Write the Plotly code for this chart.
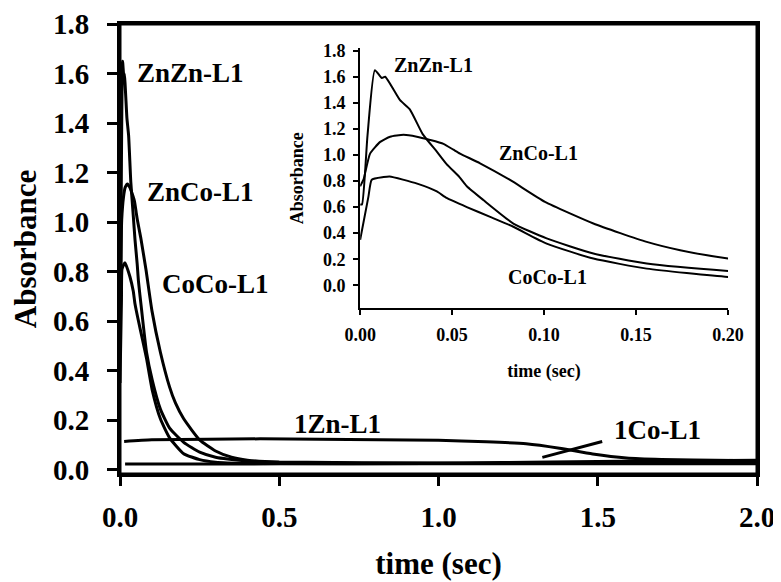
import plotly.graph_objects as go

# ---------------- data ----------------
# fast-decay traces, time in s (same data used in the main plot and the inset)
znzn_t = [0.0, 0.001, 0.004, 0.008, 0.0118, 0.0136, 0.0217, 0.027, 0.034, 0.042, 0.047,
          0.054, 0.058, 0.067, 0.0833, 0.1014, 0.1268, 0.1558, 0.2, 0.25, 0.3, 0.4, 0.5, 1.0, 2.0]
znzn_a = [0.62, 0.62, 1.15, 1.65, 1.59, 1.60, 1.42, 1.35, 1.16, 1.02, 0.93,
          0.83, 0.76, 0.654, 0.474, 0.36, 0.244, 0.167, 0.11, 0.07, 0.05, 0.035, 0.028, 0.025, 0.025]

znco_t = [0.0, 0.0018, 0.0054, 0.0109, 0.0163, 0.0236, 0.0308, 0.038, 0.0453, 0.0507, 0.0543,
          0.0652, 0.0815, 0.1005, 0.1268, 0.1558, 0.174, 0.2, 0.25, 0.3, 0.35, 0.4, 0.5, 1.0, 2.0]
znco_a = [0.76, 0.81, 1.01, 1.10, 1.14, 1.154, 1.14, 1.115, 1.085, 1.04, 1.01,
          0.936, 0.808, 0.64, 0.474, 0.333, 0.269, 0.205, 0.12, 0.075, 0.05, 0.038, 0.03, 0.026, 0.026]

coco_t = [0.0, 0.0045, 0.0063, 0.0127, 0.016, 0.031, 0.0417, 0.047, 0.058, 0.0707, 0.0833,
          0.1014, 0.1268, 0.1558, 0.2, 0.25, 0.3, 0.4, 1.0, 2.0]
coco_a = [0.35, 0.68, 0.81, 0.83, 0.835, 0.78, 0.72, 0.67, 0.60, 0.525, 0.449,
          0.32, 0.205, 0.128, 0.064, 0.04, 0.03, 0.025, 0.023, 0.023]

# slow traces (main plot only)
zn1_t = [0.013, 0.1, 0.44, 1.0, 1.15, 1.275, 1.38, 1.484, 1.59, 1.7, 1.8, 2.0]
zn1_a = [0.113, 0.12, 0.124, 0.118, 0.112, 0.104, 0.086, 0.063, 0.047, 0.041, 0.039, 0.036]

co1_t = [0.016, 0.5, 0.96, 1.2, 1.5, 1.8, 2.0]
co1_a = [0.022, 0.023, 0.024, 0.028, 0.032, 0.036, 0.038]

# leader line for the 1Co-L1 label
pointer_t = [1.326, 1.514]
pointer_a = [0.049, 0.113]

main_xticks = [0.0, 0.5, 1.0, 1.5, 2.0]
main_yticks = [0.0, 0.2, 0.4, 0.6, 0.8, 1.0, 1.2, 1.4, 1.6, 1.8]
inset_xticks = [0.0, 0.05, 0.10, 0.15, 0.20]
inset_yticks = [0.0, 0.2, 0.4, 0.6, 0.8, 1.0, 1.2, 1.4, 1.6, 1.8]

# labels: (text, x, y)
main_labels = [("ZnZn-L1", 0.047, 1.603), ("ZnCo-L1", 0.0785, 1.121), ("CoCo-L1", 0.126, 0.749),
               ("1Zn-L1", 0.540, 0.186), ("1Co-L1", 1.545, 0.158)]
inset_labels = [("ZnZn-L1", 0.0174, 1.692), ("ZnCo-L1", 0.0745, 1.015), ("CoCo-L1", 0.0793, 0.0615)]

# ---------------- figure ----------------
SERIF = "Liberation Serif"
fig = go.Figure()

main_line = dict(color="black", width=3, shape="spline", smoothing=0.5)
inset_line = dict(color="black", width=2, shape="spline", smoothing=0.5)

for t, a in [(znzn_t, znzn_a), (znco_t, znco_a), (coco_t, coco_a), (zn1_t, zn1_a), (co1_t, co1_a)]:
    fig.add_trace(go.Scatter(x=t, y=a, mode="lines", line=main_line, xaxis="x", yaxis="y",
                             showlegend=False, hoverinfo="skip"))
fig.add_trace(go.Scatter(x=pointer_t, y=pointer_a, mode="lines", line=dict(color="black", width=3),
                         xaxis="x", yaxis="y", showlegend=False, hoverinfo="skip"))

for t, a in [(znzn_t, znzn_a), (znco_t, znco_a), (coco_t, coco_a)]:
    fig.add_trace(go.Scatter(x=t, y=a, mode="lines", line=inset_line, xaxis="x2", yaxis="y2",
                             showlegend=False, hoverinfo="skip"))

annotations = []
for txt, x, y in main_labels:
    annotations.append(dict(text=txt, x=x, y=y, xref="x", yref="y", xanchor="left", yanchor="middle",
                            showarrow=False, font=dict(family=SERIF, size=27, color="black", weight="bold")))
for txt, x, y in inset_labels:
    annotations.append(dict(text=txt, x=x, y=y, xref="x2", yref="y2", xanchor="left", yanchor="middle",
                            showarrow=False, font=dict(family=SERIF, size=20, color="black", weight="bold")))

axis_common = dict(showgrid=False, zeroline=False, linecolor="black", ticks="outside",
                   tickcolor="black", automargin=False)

fig.update_layout(
    width=773, height=574,
    margin=dict(l=112, r=24, t=16, b=108, autoexpand=False),
    paper_bgcolor="white", plot_bgcolor="rgba(0,0,0,0)",
    showlegend=False,
    annotations=annotations,
    shapes=[dict(type="rect", xref="paper", yref="paper", x0=0, x1=1, y0=0, y1=1,
                 line=dict(color="black", width=3), fillcolor="rgba(0,0,0,0)", layer="above")],
    xaxis=dict(**axis_common, showline=True, mirror=True, linewidth=3, range=[0, 2],
               tickvals=main_xticks, tickformat=".1f",
               tickwidth=3, ticklen=9, ticklabelstandoff=6,
               tickfont=dict(family=SERIF, size=29, color="black", weight="bold"),
               title=dict(text="time (sec)", standoff=21,
                          font=dict(family=SERIF, size=31, color="black", weight="bold"))),
    yaxis=dict(**axis_common, showline=True, mirror=True, linewidth=3, range=[-0.018, 1.8],
               tickvals=main_yticks, tickformat=".1f",
               tickwidth=3, ticklen=10, ticklabelstandoff=12,
               tickfont=dict(family=SERIF, size=29, color="black", weight="bold"),
               title=dict(text="Absorbance", standoff=20,
                          font=dict(family=SERIF, size=31, color="black", weight="bold"))),
    xaxis2=dict(**axis_common, showline=True, domain=[0.377, 0.9545], anchor="y2", range=[0, 0.2],
                tickvals=inset_xticks, tickformat=".2f", linewidth=2, tickwidth=2, ticklen=5,
                ticklabelstandoff=4,
                tickfont=dict(family=SERIF, size=18, color="black", weight="bold"),
                title=dict(text="time (sec)", standoff=20,
                           font=dict(family=SERIF, size=18, color="black", weight="bold"))),
    yaxis2=dict(**axis_common, showline=True, domain=[0.368, 0.9466], anchor="x2", range=[-0.177, 1.82],
                tickvals=inset_yticks, tickformat=".1f", linewidth=2, tickwidth=2, ticklen=5,
                ticklabelstandoff=4,
                tickfont=dict(family=SERIF, size=18, color="black", weight="bold"),
                title=dict(text="Absorbance", standoff=15,
                           font=dict(family=SERIF, size=18, color="black", weight="bold"))),
)

fig.write_html("out.html")
